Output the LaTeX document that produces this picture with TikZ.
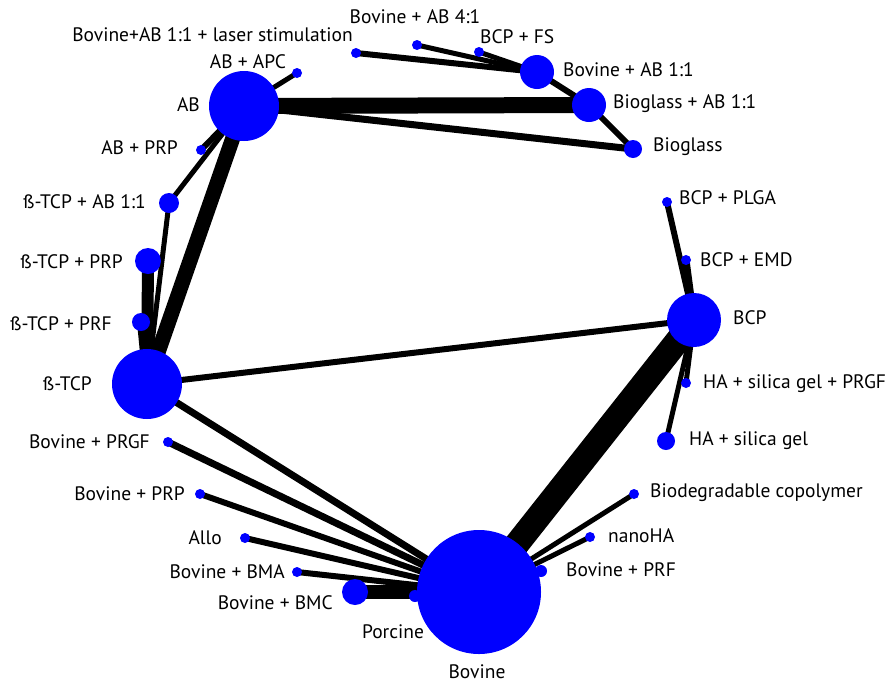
\documentclass[tikz,border=0pt]{standalone}
\usepackage{fontspec}
\setmainfont{PT Sans}
\usetikzlibrary{backgrounds}
\begin{document}
\begin{tikzpicture}[x=1pt,y=-1pt,
  nd/.style={circle,fill=blue,draw=none,inner sep=0pt,minimum size=#1},
  lb/.style={inner sep=0pt,font=\fontsize{19.5}{20}\selectfont},
  ed/.style={line width=#1,draw=black}]
\useasboundingbox (0,0) rectangle (890,683);
% nodes
\node[nd=70] (AB) at (244,106) {};
\node[nd=10] (ABAPC) at (297,73) {};
\node[nd=10] (laser) at (356,53) {};
\node[nd=10] (BAB41) at (417,45) {};
\node[nd=10] (BCPFS) at (479,52) {};
\node[nd=34] (BAB11) at (537,72) {};
\node[nd=34] (BGAB) at (589,105) {};
\node[nd=18] (BG) at (633,149) {};
\node[nd=10] (BCPPLGA) at (667,202) {};
\node[nd=10] (BCPEMD) at (686,260) {};
\node[nd=54] (BCP) at (694,320) {};
\node[nd=10] (HASGP) at (686,383) {};
\node[nd=18] (HASG) at (666,441) {};
\node[nd=10] (BIOC) at (634,494) {};
\node[nd=10] (NANO) at (590,537) {};
\node[nd=12] (BPRF) at (541,571) {};
\node[nd=12] (POR) at (415,596) {};
\node[nd=26] (BBMC) at (355,592) {};
\node[nd=10] (BBMA) at (297,572) {};
\node[nd=10] (ALLO) at (245,538) {};
\node[nd=10] (BPRP) at (200,494) {};
\node[nd=10] (BPRGF) at (168,442) {};
\node[nd=70] (TCP) at (147,384) {};
\node[nd=18] (TCPPRF) at (141,322) {};
\node[nd=26] (TCPPRP) at (148,261) {};
\node[nd=20] (TCPAB) at (169,203) {};
\node[nd=10] (ABPRP) at (201,150) {};
\node[nd=124] (BOV) at (479,592) {};
% edges
\begin{scope}[on background layer]
\draw[ed=16] (AB.center) -- (BGAB.center);
\draw[ed=7] (AB.center) -- (BG.center);
\draw[ed=15] (AB.center) -- (TCP.center);
\draw[ed=5] (AB.center) -- (ABAPC.center);
\draw[ed=6] (AB.center) -- (ABPRP.center);
\draw[ed=5] (AB.center) -- (TCPAB.center);
\draw[ed=5] (TCPAB.center) -- (TCP.center);
\draw[ed=12] (TCPPRP.center) -- (TCP.center);
\draw[ed=8] (TCPPRF.center) -- (TCP.center);
\draw[ed=6] (TCP.center) -- (BCP.center);
\draw[ed=7] (TCP.center) -- (BOV.center);
\draw[ed=7] (BPRGF.center) -- (BOV.center);
\draw[ed=6] (BPRP.center) -- (BOV.center);
\draw[ed=6] (ALLO.center) -- (BOV.center);
\draw[ed=6] (BBMA.center) -- (BOV.center);
\draw[ed=14] (BBMC.center) -- (BOV.center);
\draw[ed=6] (POR.center) -- (BOV.center);
\draw[ed=25] (BCP.center) -- (BOV.center);
\draw[ed=5] (BIOC.center) -- (BOV.center);
\draw[ed=5] (NANO.center) -- (BOV.center);
\draw[ed=5] (BPRF.center) -- (BOV.center);
\draw[ed=6] (BCPPLGA.center) -- (BCP.center);
\draw[ed=7] (BCPEMD.center) -- (BCP.center);
\draw[ed=5] (HASGP.center) -- (BCP.center);
\draw[ed=5] (HASG.center) -- (BCP.center);
\draw[ed=6] (laser.center) -- (BAB11.center);
\draw[ed=5] (BAB41.center) -- (BAB11.center);
\draw[ed=5] (BCPFS.center) -- (BAB11.center);
\draw[ed=6] (BAB11.center) -- (BGAB.center);
\draw[ed=6] (BGAB.center) -- (BG.center);
\end{scope}
% labels
\node[lb,anchor=east] (tlaser) at (353,35) {Bovine+AB 1:1 + laser stimulation};
\node[lb] (tABAPC) at (248,62) {AB + APC};
\node[lb,anchor=east] (tAB) at (200,105) {AB};
\node[lb,anchor=east] (tABPRP) at (178,148) {AB + PRP};
\node[lb,anchor=east] (tTCPAB) at (146,202) {ß-TCP + AB 1:1};
\node[lb,anchor=east] (tTCPPRP) at (123,262) {ß-TCP + PRP};
\node[lb,anchor=east] (tTCPPRF) at (112,324) {ß-TCP + PRF};
\node[lb,anchor=east] (tTCP) at (92,384) {ß-TCP};
\node[lb,anchor=east] (tBPRGF) at (150,442) {Bovine + PRGF};
\node[lb,anchor=east] (tBPRP) at (185,494) {Bovine + PRP};
\node[lb,anchor=east] (tALLO) at (222,538) {Allo};
\node[lb,anchor=east] (tBBMA) at (285,572) {Bovine + BMA};
\node[lb,anchor=east] (tBBMC) at (333,603) {Bovine + BMC};
\node[lb] (tPOR) at (393,632) {Porcine};
\node[lb] (tBOV) at (477,672) {Bovine};
\node[lb,anchor=west] (tBPRF) at (566,570) {Bovine + PRF};
\node[lb,anchor=west] (tNANO) at (608,536) {nanoHA};
\node[lb,anchor=west] (tBIOC) at (650,493) {Biodegradable copolymer};
\node[lb,anchor=west] (tHASG) at (689,441) {HA + silica gel};
\node[lb,anchor=west] (tHASGP) at (703,384) {HA + silica gel + PRGF};
\node[lb,anchor=west] (tBCP) at (733,318) {BCP};
\node[lb,anchor=west] (tBCPEMD) at (700,260) {BCP + EMD};
\node[lb,anchor=west] (tBCPPLGA) at (679,198) {BCP + PLGA};
\node[lb,anchor=west] (tBG) at (653,147) {Bioglass};
\node[lb,anchor=west] (tBGAB) at (613,104) {Bioglass + AB 1:1};
\node[lb,anchor=west] (tBAB11) at (563,70) {Bovine + AB 1:1};
\node[lb,anchor=west] (tBCPFS) at (480,37) {BCP + FS};
\node[lb] (tBAB41) at (415,17) {Bovine + AB 4:1};
\end{tikzpicture}
\end{document}
